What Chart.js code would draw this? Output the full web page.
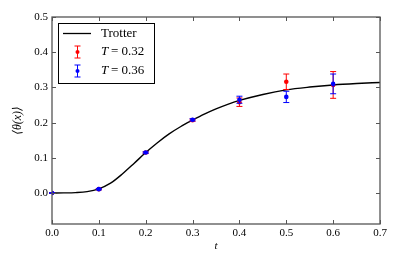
<!DOCTYPE html>
<html lang="en">
<head>
  <meta charset="UTF-8" />
  <title>Trotter vs T</title>
  <script src="https://cdn.jsdelivr.net/npm/chart.js"></script>
  <style>
    html, body { margin: 0; padding: 0; background: #fff; }
    #wrap { width: 399px; height: 266px; }
  </style>
</head>
<body>
  <div id="wrap"><canvas id="c"></canvas></div>
  <script>
    // Trotter curve
    const trotterT = [0, 0.025, 0.05, 0.075, 0.1, 0.125, 0.15, 0.175, 0.2, 0.225, 0.25, 0.275, 0.3, 0.325, 0.35, 0.375, 0.4, 0.45, 0.5, 0.55, 0.6, 0.65, 0.7];
    const trotterY = [0, 0.0003, 0.0012, 0.004, 0.012, 0.028, 0.054, 0.084, 0.115, 0.143, 0.168, 0.189, 0.207, 0.224, 0.239, 0.252, 0.263, 0.28, 0.293, 0.301, 0.307, 0.311, 0.314];

    // measured points
    const pointT = [0.0, 0.1, 0.2, 0.3, 0.4, 0.5, 0.6];
    const t032 = [0.0, 0.011, 0.115, 0.207, 0.258, 0.316, 0.307];
    const t032Err = [0.001, 0.002, 0.002, 0.003, 0.012, 0.022, 0.038];
    const t036 = [0.0, 0.011, 0.115, 0.208, 0.265, 0.273, 0.310];
    const t036Err = [0.001, 0.002, 0.002, 0.003, 0.010, 0.016, 0.028];

    const xTicks = [0.0, 0.1, 0.2, 0.3, 0.4, 0.5, 0.6, 0.7];
    const yTicks = [0.0, 0.1, 0.2, 0.3, 0.4, 0.5];

    const serif = '"Liberation Serif", "DejaVu Serif", serif';

    function toXY(xs, ys) { return xs.map((x, i) => ({ x: x, y: ys[i] })); }

    const errors = { 1: t032Err, 2: t036Err };

    // error bars under each point series
    const errorBars = {
      id: 'errorBars',
      beforeDatasetDraw(chart, args) {
        const err = errors[args.index];
        if (!err) return;
        const ds = chart.data.datasets[args.index];
        const xs = chart.scales.x, ys = chart.scales.y;
        const c = chart.ctx;
        c.save();
        c.strokeStyle = ds.borderColor;
        c.lineWidth = 1;
        ds.data.forEach((p, i) => {
          const px = xs.getPixelForValue(p.x);
          const top = ys.getPixelForValue(p.y + err[i]);
          const bot = ys.getPixelForValue(p.y - err[i]);
          c.beginPath();
          c.moveTo(px, top); c.lineTo(px, bot);
          c.moveTo(px - 3, top); c.lineTo(px + 3, top);
          c.moveTo(px - 3, bot); c.lineTo(px + 3, bot);
          c.stroke();
        });
        c.restore();
      }
    };

    // box frame with inward ticks, then the legend
    const frame = {
      id: 'frame',
      afterDraw(chart) {
        const a = chart.chartArea, c = chart.ctx;
        const xs = chart.scales.x, ys = chart.scales.y;
        c.save();
        c.strokeStyle = '#555';
        c.lineWidth = 1.3;
        c.strokeRect(a.left, a.top, a.right - a.left, a.bottom - a.top);
        c.lineWidth = 1;
        c.beginPath();
        xTicks.forEach(v => {
          const px = Math.round(xs.getPixelForValue(v)) + 0.5;
          c.moveTo(px, a.bottom); c.lineTo(px, a.bottom - 4);
          c.moveTo(px, a.top); c.lineTo(px, a.top + 4);
        });
        yTicks.forEach(v => {
          const py = Math.round(ys.getPixelForValue(v)) + 0.5;
          c.moveTo(a.left, py); c.lineTo(a.left + 4, py);
          c.moveTo(a.right, py); c.lineTo(a.right - 4, py);
        });
        c.stroke();

        // legend
        const lx = a.left + 6, ly = a.top + 6;
        c.fillStyle = '#fff';
        c.fillRect(lx, ly, 96, 60);
        c.strokeStyle = '#000';
        c.lineWidth = 1;
        c.strokeRect(lx + 0.5, ly + 0.5, 96, 60);
        c.beginPath();
        c.moveTo(lx + 5, ly + 10.5); c.lineTo(lx + 33, ly + 10.5);
        c.lineWidth = 1.3;
        c.stroke();
        const rows = [
          { y: ly + 29, col: chart.data.datasets[1].borderColor, val: '0.32' },
          { y: ly + 48, col: chart.data.datasets[2].borderColor, val: '0.36' }
        ];
        rows.forEach(r => {
          const mx = lx + 19.5;
          c.strokeStyle = r.col; c.fillStyle = r.col; c.lineWidth = 1;
          c.beginPath();
          c.moveTo(mx, r.y - 6); c.lineTo(mx, r.y + 6);
          c.moveTo(mx - 3, r.y - 6); c.lineTo(mx + 3, r.y - 6);
          c.moveTo(mx - 3, r.y + 6); c.lineTo(mx + 3, r.y + 6);
          c.stroke();
          c.beginPath(); c.arc(mx, r.y, 2, 0, Math.PI * 2); c.fill();
        });
        c.fillStyle = '#000';
        c.textBaseline = 'middle';
        c.font = '13px ' + serif;
        c.fillText('Trotter', lx + 43, ly + 11);
        rows.forEach(r => {
          c.font = 'italic 13px ' + serif;
          c.fillText('T', lx + 43, r.y);
          c.font = '13px ' + serif;
          c.fillText('= ' + r.val, lx + 53, r.y);
        });
        c.restore();
      }
    };

    new Chart(document.getElementById('c'), {
      type: 'scatter',
      data: {
        datasets: [
          {
            label: 'Trotter',
            type: 'line',
            order: 3,
            data: toXY(trotterT, trotterY),
            borderColor: '#000',
            borderWidth: 1.4,
            pointRadius: 0,
            cubicInterpolationMode: 'monotone',
            fill: false
          },
          {
            label: 'T = 0.32',
            order: 2,
            data: toXY(pointT, t032),
            borderColor: '#ff0000',
            backgroundColor: '#ff0000',
            pointRadius: 2.3,
            pointBorderWidth: 0
          },
          {
            label: 'T = 0.36',
            order: 1,
            data: toXY(pointT, t036),
            borderColor: '#0000ff',
            backgroundColor: '#0000ff',
            pointRadius: 2.3,
            pointBorderWidth: 0
          }
        ]
      },
      options: {
        responsive: true,
        maintainAspectRatio: false,
        animation: false,
        layout: { padding: { top: 17, right: 19, left: 0, bottom: 0 } },
        plugins: { legend: { display: false }, tooltip: { enabled: false } },
        scales: {
          x: {
            type: 'linear',
            min: 0, max: 0.7,
            grid: { display: false, drawTicks: false },
            border: { display: false },
            afterBuildTicks: s => { s.ticks = xTicks.map(v => ({ value: v })); },
            afterFit: s => { s.height = 42; },
            ticks: {
              color: '#000', padding: 3,
              font: { family: serif, size: 11 },
              callback: v => v.toFixed(1)
            },
            title: {
              display: true, text: 't', color: '#000',
              font: { family: serif, size: 11, style: 'italic' },
              padding: { top: 0, bottom: 13 }
            }
          },
          y: {
            min: -0.088, max: 0.5,
            grid: { display: false, drawTicks: false },
            border: { display: false },
            afterBuildTicks: s => { s.ticks = yTicks.map(v => ({ value: v })); },
            afterFit: s => { s.width = 52; },
            ticks: {
              color: '#000', padding: 4,
              font: { family: serif, size: 11 },
              callback: v => v.toFixed(1)
            },
            title: {
              display: true, text: '⟨θ(x)⟩', color: '#000',
              font: { family: serif, size: 12, style: 'italic' },
              padding: { top: 11, bottom: 0 }
            }
          }
        }
      },
      plugins: [errorBars, frame]
    });
  </script>
</body>
</html>
